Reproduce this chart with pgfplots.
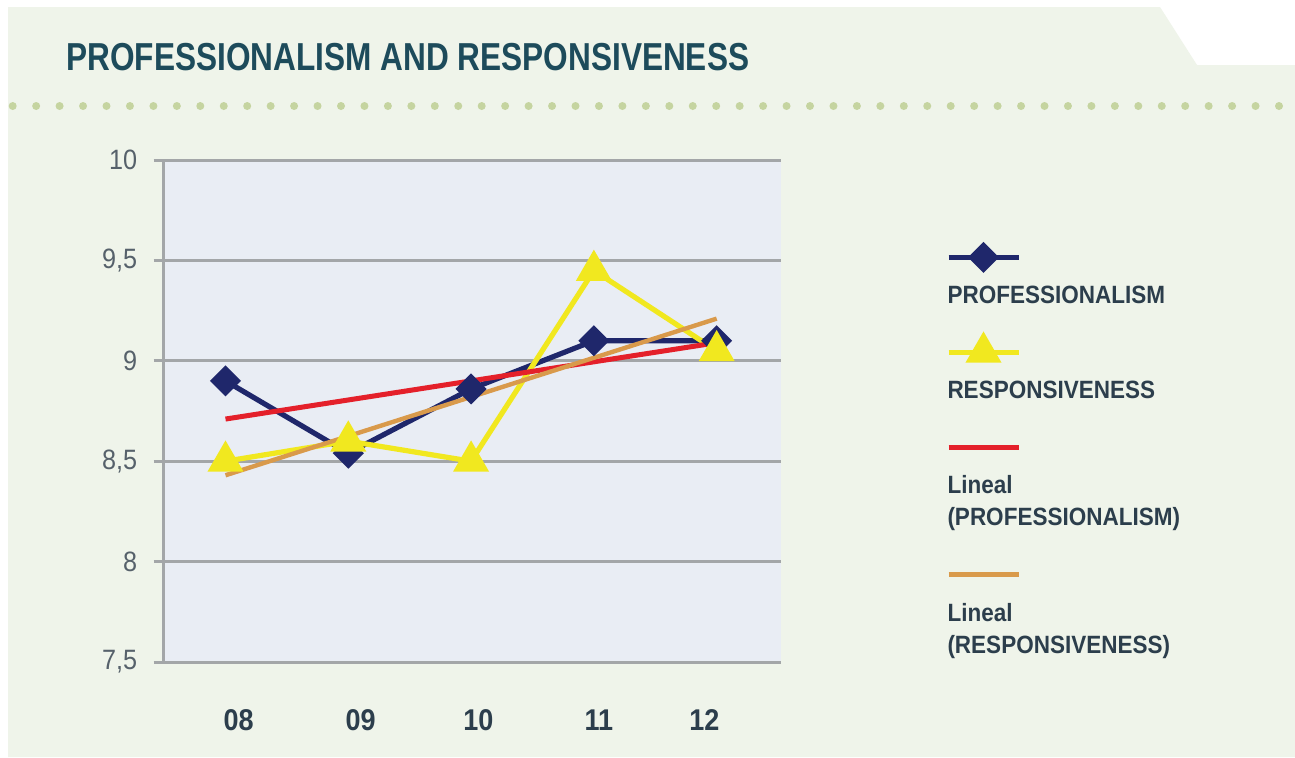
\documentclass[border=0pt]{standalone}
\usepackage{fontspec}
\setmainfont{Liberation Sans}
\newfontfamily\titlefont[FakeStretch=0.81]{Liberation Sans}
\newfontfamily\condfont[FakeStretch=0.9]{Liberation Sans}
\usepackage{pgfplots}
\pgfplotsset{compat=1.18}
\definecolor{panel}{HTML}{EFF4EA}
\definecolor{plotbg}{HTML}{E9EDF4}
\definecolor{gridc}{HTML}{A3A6A8}
\definecolor{dotc}{HTML}{C5D4A0}
\definecolor{titlec}{HTML}{1D4B5B}
\definecolor{ytickc}{HTML}{56616B}
\definecolor{labc}{HTML}{2C3E4C}
\definecolor{profc}{HTML}{1F276B}
\definecolor{respc}{HTML}{F1E81F}
\definecolor{redc}{HTML}{E4202A}
\definecolor{orangec}{HTML}{D99A4B}
\begin{document}
\begin{tikzpicture}
\useasboundingbox (0,0) rectangle (647.5pt,-378.5pt);
\fill[white] (0,0) rectangle (647.5pt,-378.5pt);
\begin{scope}[x=0.5pt,y=-0.5pt]
\fill[panel] (8,7) -- (1160,7) -- (1197,65) -- (1295,65) -- (1295,757) -- (8,757) -- cycle;
\foreach \k in {0,...,54} \fill[dotc] ({12.7+23.45*\k},106) circle (4);
\node[anchor=base west, inner sep=0pt, text=titlec, font=\titlefont\bfseries\fontsize{19.5pt}{20pt}\selectfont] at (66,70) {PROFESSIONALISM AND RESPONSIVENESS};
\end{scope}
\begin{axis}[
  at={(81.75pt,-331pt)}, anchor=south west,
  scale only axis, width=308.5pt, height=251pt,
  xmin=-0.505, xmax=4.52, ymin=7.5, ymax=10,
  axis background/.style={fill=plotbg},
  axis x line*=bottom, axis y line*=left,
  x axis line style={draw=none},
  y axis line style={gridc, line width=1.5pt, -},
  ytick={7.5,8,8.5,9,9.5,10},
  ymajorgrids, grid style={gridc, line width=1.5pt},
  ytick style={gridc, line width=1.5pt},
  tick align=outside, major tick length=5pt,
  xtick={0.106,1.10,2.06,3.04,3.90},
  xticklabels={08,09,10,11,12},
  xtick style={draw=none},
  /pgf/number format/assume math mode=true,
  /pgf/number format/use comma,
  yticklabel style={font=\condfont\fontsize{14pt}{14pt}\selectfont, text=ytickc, anchor=east, inner sep=0pt, xshift=-8pt},
  xticklabel style={font=\condfont\bfseries\fontsize{15pt}{15pt}\selectfont, text=labc, anchor=north, inner sep=0pt, yshift=-18.5pt},
  legend cell align=left,
  legend style={at={(axis description cs:1.2635,0.759)}, anchor=north west, draw=none, fill=none, inner sep=0pt, row sep=33pt, column sep=0pt,
     font=\condfont\bfseries\fontsize{12.5pt}{16pt}\selectfont, text=labc,
     cells={anchor=north west, align=left, inner sep=0pt}},
  legend image code/.code={\draw[mark repeat=2,mark phase=2,#1,overlay] plot coordinates {(2.5pt,12pt)(20pt,12pt)(37.5pt,12pt)};},
]
\addplot[profc, line width=2.6pt, mark=square*, mark size=4.2pt, mark options={rotate=45}] coordinates {(0,8.9)(1,8.54)(2,8.86)(3,9.1)(4,9.1)};
\addlegendentry{PROFESSIONALISM}
\addplot[respc, line width=2.6pt, mark=triangle*, mark size=7.8pt] coordinates {(0,8.5)(1,8.6)(2,8.5)(3,9.45)(4,9.05)};
\addlegendentry{RESPONSIVENESS}
\addplot[redc, line width=2.5pt] coordinates {(0,8.71)(4,9.09)};
\addlegendentry{Lineal\\(PROFESSIONALISM)}
\addplot[orangec, line width=2.2pt] coordinates {(0,8.43)(4,9.21)};
\addlegendentry{Lineal\\(RESPONSIVENESS)}
\end{axis}
\end{tikzpicture}
\end{document}
